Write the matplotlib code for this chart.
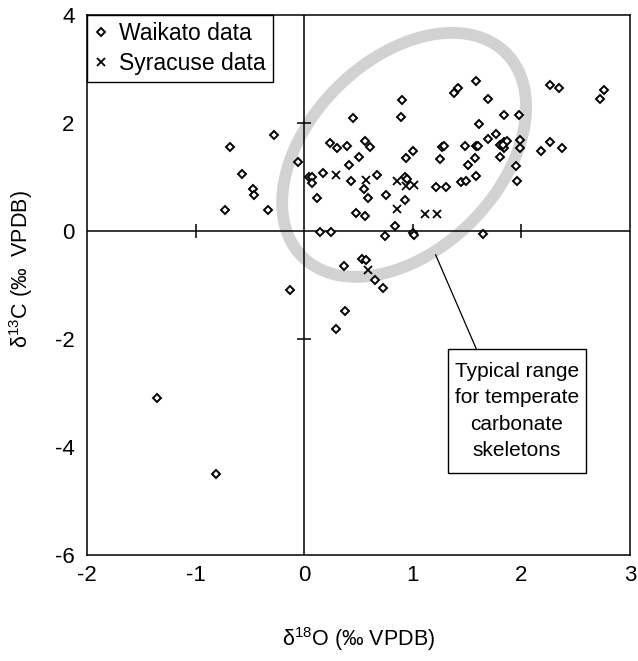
## Carbon vs oxygen isotope cross-plot, Waikato and Syracuse data

import numpy as np
import matplotlib.pyplot as plt

plt.rcParams['font.family'] = ['Liberation Sans', 'DejaVu Sans']
plt.rcParams['mathtext.fontset'] = 'custom'
plt.rcParams['mathtext.rm'] = 'Liberation Sans'
plt.rcParams['mathtext.it'] = 'Liberation Sans:italic'
plt.rcParams['axes.unicode_minus'] = False

# Waikato data (d18O, d13C)
waikato_d18o = [-1.36, -0.81, -0.68, -0.57, -0.73, -0.28, -0.47, -0.46, -0.33, -0.06, -0.13,
                0.04, 0.07, 0.07, 0.17, 0.12, 0.15, 0.25,
                0.24, 0.30, 0.39, 0.45, 0.41, 0.50, 0.56, 0.61, 0.43, 0.55, 0.59, 0.67,
                0.48, 0.56, 0.75, 0.74,
                0.90, 0.89, 0.94, 1.00, 0.93, 0.95, 0.93, 0.84, 1.00, 1.01,
                1.21, 1.31, 1.25, 1.27, 1.29, 1.38, 1.42, 1.58, 1.69, 1.48, 1.58, 1.60,
                1.44, 1.49, 1.51, 1.57, 1.58, 1.61, 1.69, 1.77, 1.80, 1.84, 1.98,
                1.80, 1.84, 1.84, 1.87, 1.83, 1.99, 1.99, 1.95, 1.96, 2.18,
                2.26, 2.35, 2.76, 2.72, 2.26, 2.37, 1.65,
                0.37, 0.53, 0.57, 0.65, 0.73, 0.38, 0.29]
waikato_d13c = [-3.09, -4.50, 1.55, 1.05, 0.39, 1.77, 0.77, 0.66, 0.38, 1.27, -1.09,
                1.00, 1.00, 0.89, 1.08, 0.61, -0.02, -0.01,
                1.63, 1.54, 1.57, 2.10, 1.22, 1.37, 1.66, 1.56, 0.93, 0.77, 0.62, 1.03,
                0.34, 0.28, 0.66, -0.09,
                2.42, 2.11, 1.36, 1.48, 1.00, 0.97, 0.57, 0.09, -0.04, -0.08,
                0.81, 0.81, 1.33, 1.56, 1.57, 2.55, 2.65, 2.77, 2.45, 1.57, 1.58, 1.57,
                0.90, 0.92, 1.23, 1.36, 1.01, 1.98, 1.71, 1.80, 1.37, 2.15, 2.14,
                1.59, 1.53, 1.65, 1.67, 1.60, 1.69, 1.53, 1.20, 0.93, 1.48,
                2.70, 2.65, 2.62, 2.44, 1.65, 1.54, -0.05,
                -0.64, -0.51, -0.54, -0.91, -1.06, -1.48, -1.81]

# Syracuse data
syracuse_d18o = [0.29, 0.57, 0.85, 0.94, 1.01, 0.85, 1.11, 1.22, 0.59]
syracuse_d13c = [1.03, 0.94, 0.93, 0.83, 0.86, 0.41, 0.32, 0.31, -0.73]

x_ticks = [-2, -1, 0, 1, 2, 3]
y_ticks = [-6, -4, -2, 0, 2, 4]

box_label = 'Typical range\nfor temperate\ncarbonate\nskeletons'

fig_w, fig_h, dpi = 6.38, 6.61, 100
ax_pos = [87 / 638, 106 / 661, 543 / 638, 540 / 661]

fig = plt.figure(figsize=(fig_w, fig_h), dpi=dpi)
ax = fig.add_axes(ax_pos)
ax.set_xlim(x_ticks[0], x_ticks[-1])
ax.set_ylim(y_ticks[0], y_ticks[-1])

# pixels per data unit (used to draw the ellipse in screen shape)
px_x = fig_w * dpi * ax_pos[2] / (x_ticks[-1] - x_ticks[0])
px_y = fig_h * dpi * ax_pos[3] / (y_ticks[-1] - y_ticks[0])

# grey ring: "typical range" ellipse
t = np.linspace(0, 2 * np.pi, 300)
a, b, th = 144, 95, np.deg2rad(45)
ex = 0.92 + (a * np.cos(t) * np.cos(th) - b * np.sin(t) * np.sin(th)) / px_x
ey = 1.41 + (a * np.cos(t) * np.sin(th) + b * np.sin(t) * np.cos(th)) / px_y
ax.plot(ex, ey, color='#d2d2d2', lw=8.5, solid_capstyle='round', zorder=1)

# zero lines with little cross ticks
ax.axhline(0, color='black', lw=1.1, zorder=2)
ax.axvline(0, color='black', lw=1.1, zorder=2)
inner_x = [v for v in x_ticks[1:-1] if v != 0]
inner_y = [v for v in y_ticks[1:-1] if v != 0 and v > -3]
ax.plot(inner_x, np.zeros(len(inner_x)), ls='none', marker='|', ms=10, mew=1.1, color='black')
ax.plot(np.zeros(len(inner_y)), inner_y, ls='none', marker='_', ms=10, mew=1.1, color='black')

ax.plot(waikato_d18o, waikato_d13c, ls='none', marker='D', ms=4.2, mew=1.4,
        mfc='white', mec='black', label='Waikato data', zorder=3)
ax.plot(syracuse_d18o, syracuse_d13c, ls='none', marker='x', ms=5.5, mew=1.3,
        color='black', label='Syracuse data', zorder=4)

# annotation box and leader line
ax.plot([1.21, 1.585], [-0.44, -2.185], color='black', lw=0.9, zorder=2)
ax.add_patch(plt.Rectangle((1.326, -4.48), 1.27, 2.295, fill=True, fc='white',
                           ec='black', lw=1.0, zorder=5))
ax.text(1.96, -3.33, box_label, ha='center', va='center', fontsize=15,
        linespacing=1.5, zorder=6)

ax.set_xticks(x_ticks)
ax.set_yticks(y_ticks)
ax.tick_params(length=0, labelsize=16)
ax.tick_params(axis='x', pad=7)
ax.tick_params(axis='y', pad=9)
for s in ax.spines.values():
    s.set_linewidth(1.1)

ax.set_xlabel('δ$^{18}$O (‰ VPDB)', fontsize=15.5)
ax.set_ylabel('δ$^{13}$C (‰  VPDB)', fontsize=15.5)
ax.xaxis.set_label_coords(0.5, -0.13)
ax.yaxis.set_label_coords(-0.095, 0.53)

leg = ax.legend(loc='upper left', borderaxespad=0, fancybox=False, fontsize=16.5,
                edgecolor='black', framealpha=1, handlelength=0.6, handletextpad=0.5,
                labelspacing=0.3, borderpad=0.3)
leg.get_frame().set_linewidth(1.0)
leg.set_zorder(7)

fig.savefig('out.png', dpi=dpi)
